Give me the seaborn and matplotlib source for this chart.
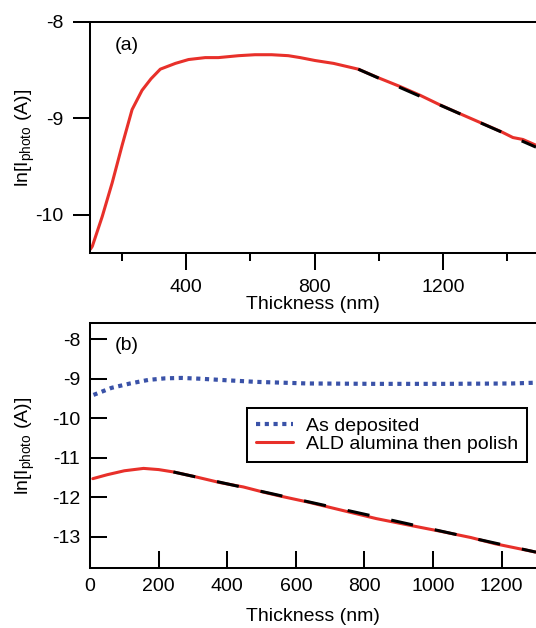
import matplotlib
matplotlib.use("Agg")
import matplotlib.pyplot as plt
import seaborn as sns
from matplotlib.ticker import MultipleLocator, AutoMinorLocator

# panel (a): photocurrent vs thickness
thick_a = [101, 107, 138, 169, 200, 231, 262, 290, 319, 366, 407, 459, 500, 563, 614,
           666, 718, 755, 801, 859, 936, 999, 1066, 1128, 1190, 1258, 1320, 1382,
           1418, 1449, 1490]
lnI_a = [-10.36, -10.33, -10.02, -9.67, -9.28, -8.91, -8.71, -8.59, -8.49, -8.43, -8.39,
         -8.37, -8.37, -8.35, -8.34, -8.34, -8.35, -8.37, -8.40, -8.43, -8.49, -8.58,
         -8.67, -8.76, -8.86, -8.96, -9.05, -9.14, -9.20, -9.22, -9.28]
fit_a_thick = [936, 1490]
fit_a_lnI = [-8.49, -9.30]

# panel (b): two samples
thick_dep = [10, 63, 117, 170, 219, 267, 321, 400, 485, 560, 634, 834, 1033, 1231, 1300]
lnI_dep = [-9.41, -9.23, -9.12, -9.03, -8.99, -8.98, -9.00, -9.04, -9.08, -9.10,
           -9.12, -9.13, -9.13, -9.12, -9.10]
thick_ald = [8, 50, 100, 156, 200, 243, 311, 379, 447, 505, 554, 634, 734, 834, 932,
             1032, 1110, 1182, 1300]
lnI_ald = [-11.53, -11.43, -11.33, -11.27, -11.30, -11.36, -11.49, -11.63, -11.74,
           -11.87, -11.97, -12.12, -12.33, -12.54, -12.71, -12.88, -13.02, -13.18, -13.39]
fit_b_thick = [243, 1300]
fit_b_lnI = [-11.36, -13.39]

RED = "#E8302A"
BLUE = "#3A52A8"
ylab = r"ln[I$_{\mathrm{photo}}$ (A)]"

sns.set_style("ticks")
plt.rcParams["font.family"] = ["Liberation Sans", "DejaVu Sans"]
plt.rcParams["mathtext.fontset"] = "custom"
plt.rcParams["mathtext.rm"] = "Liberation Sans"
plt.rcParams["axes.unicode_minus"] = False
plt.rcParams["axes.linewidth"] = 1.45
for key in ["text.color", "axes.labelcolor", "xtick.color", "ytick.color", "axes.edgecolor"]:
    plt.rcParams[key] = "black"

fig = plt.figure(figsize=(5.36, 6.28), dpi=100)
ax1 = fig.add_axes([0.168, 0.597, 0.832, 0.368])
ax2 = fig.add_axes([0.168, 0.095, 0.832, 0.390])

# --- (a)
sns.lineplot(x=thick_a, y=lnI_a, color=RED, linewidth=2.2, ax=ax1, zorder=2)
sns.lineplot(x=fit_a_thick, y=fit_a_lnI, color="black", linewidth=2.2,
             linestyle=(0, (7.3, 7.3)), ax=ax1, zorder=3)
ax1.set_xlim(100, 1490)
ax1.set_ylim(-10.4, -8)
ax1.xaxis.set_major_locator(MultipleLocator(400))
ax1.xaxis.set_minor_locator(AutoMinorLocator(2))
ax1.yaxis.set_major_locator(MultipleLocator(1))
ax1.tick_params(which="major", direction="out", length=12, width=1.45, labelsize=14, pad=7)
ax1.tick_params(which="minor", direction="out", length=5.8, width=1.45)
ax1.set_xlabel("Thickness (nm)", fontsize=14, labelpad=0)
ax1.set_ylabel(ylab, fontsize=14)
ax1.yaxis.set_label_coords(-0.12, 0.5)
ax1.text(0.055, 0.897, "(a)", transform=ax1.transAxes, fontsize=14, va="center")
ax1.spines["right"].set_visible(False)

# --- (b)
sns.lineplot(x=thick_dep, y=lnI_dep, color=BLUE, linewidth=3.0,
             linestyle=(0, (1, 1.1)), label="As deposited", ax=ax2, zorder=2)
sns.lineplot(x=thick_ald, y=lnI_ald, color=RED, linewidth=2.2,
             label="ALD alumina then polish", ax=ax2, zorder=2)
sns.lineplot(x=fit_b_thick, y=fit_b_lnI, color="black", linewidth=2.2,
             linestyle=(0, (7.3, 7.3)), ax=ax2, zorder=3)
ax2.set_xlim(0, 1300)
ax2.set_ylim(-13.8, -7.6)
ax2.xaxis.set_major_locator(MultipleLocator(200))
ax2.yaxis.set_major_locator(MultipleLocator(1))
ax2.tick_params(which="major", direction="in", length=12, width=1.45, labelsize=14, pad=7)
ax2.set_xlabel("Thickness (nm)", fontsize=14, labelpad=9)
ax2.set_ylabel(ylab, fontsize=14)
ax2.yaxis.set_label_coords(-0.12, 0.5)
ax2.text(0.055, 0.911, "(b)", transform=ax2.transAxes, fontsize=14, va="center")
ax2.spines["right"].set_visible(False)

h, l = ax2.get_legend_handles_labels()
leg = ax2.legend(h[:2], l[:2], loc="upper right", bbox_to_anchor=(0.98, 0.654),
                 borderaxespad=0, fontsize=14, handlelength=1.9, handletextpad=0.67,
                 borderpad=0.45, labelspacing=0.05, fancybox=False, framealpha=1,
                 edgecolor="black")
leg.get_frame().set_linewidth(1.45)

fig.savefig("out.png", dpi=100)
